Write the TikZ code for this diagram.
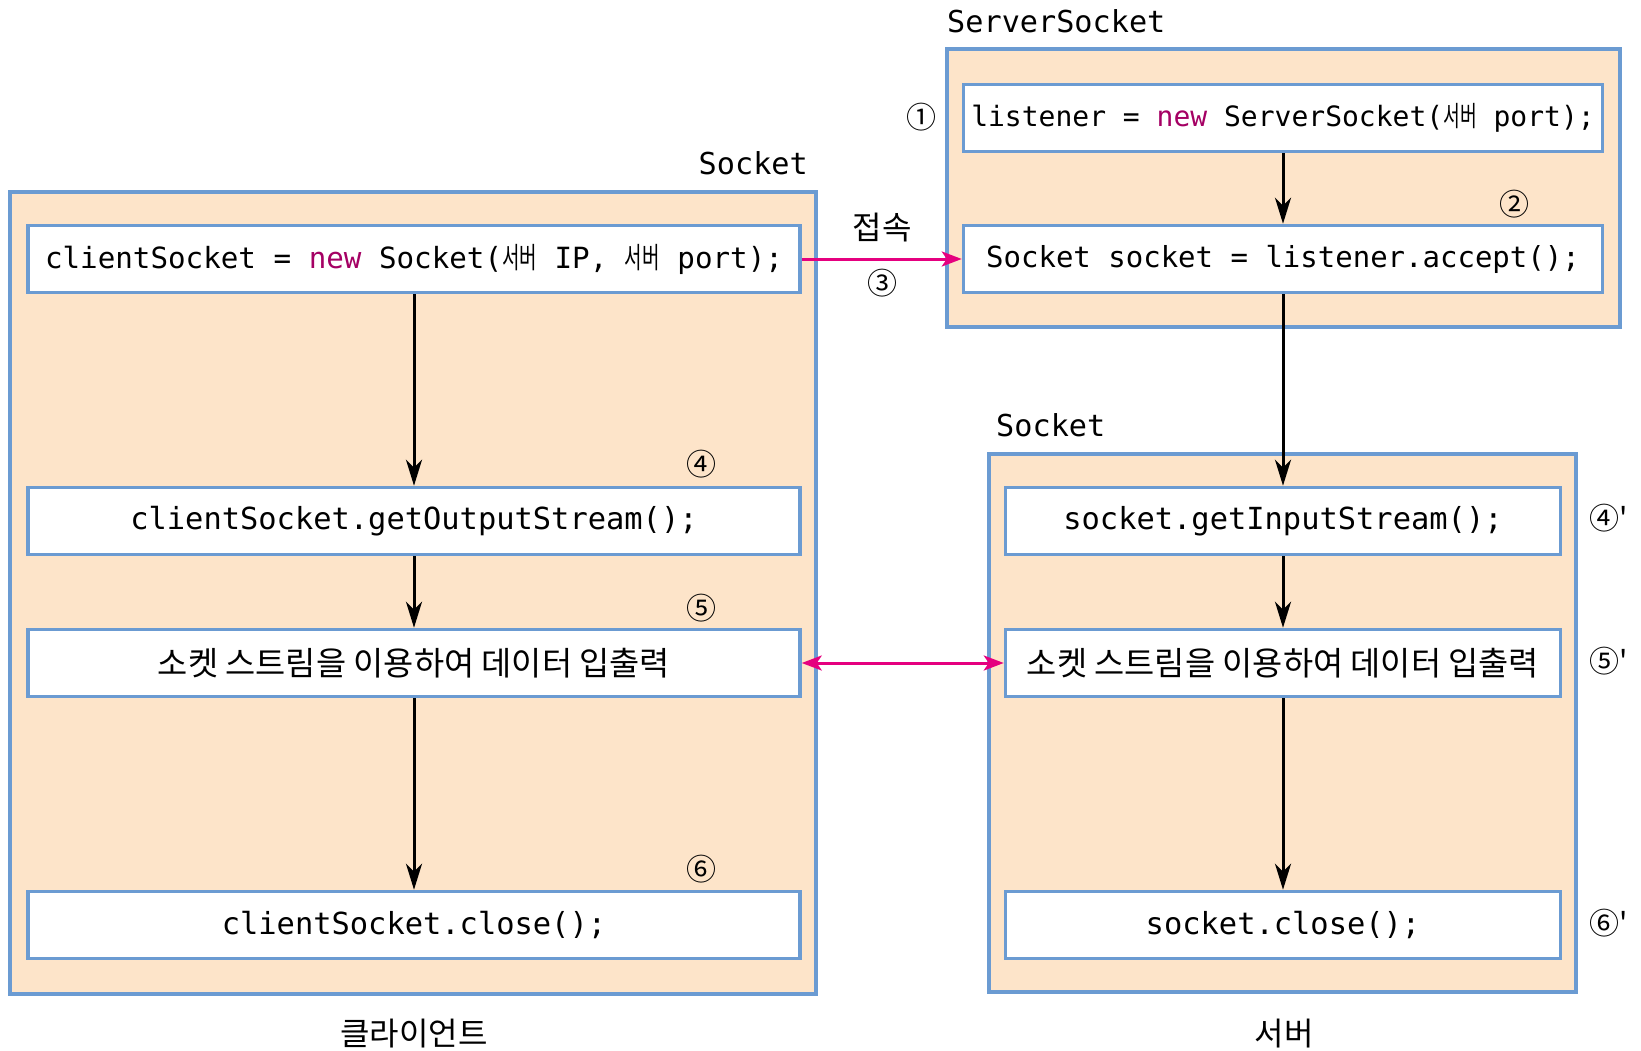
\documentclass[tikz,border=0pt]{standalone}
\usepackage{fontspec}
\setmonofont{DejaVu Sans Mono}
\newfontfamily\kr{Noto Sans CJK KR}
\newfontfamily\krcode[FakeStretch=0.65]{Noto Sans CJK KR}
\usetikzlibrary{arrows.meta}

\definecolor{boxblue}{RGB}{107,155,210}
\definecolor{sockpeach}{RGB}{253,228,201}
\definecolor{connpink}{RGB}{229,0,127}
\definecolor{kwcolor}{RGB}{165,0,100}
\newcommand{\sv}{{\krcode 서버}}
\newcommand{\kwnew}{\textcolor{kwcolor}{new}}

\tikzset{
  outerbox/.style={line width=3.5pt, draw=boxblue, fill=sockpeach},
  codebox/.style={draw=boxblue, line width=3.5pt, fill=white, minimum height=67pt,
    inner sep=0pt, font=\ttfamily\fontsize{30.4}{34}\selectfont},
  codesize/.style={font=\ttfamily\fontsize{#1}{34}\selectfont},
  krbox/.style={codebox, font=\kr\fontsize{32.8}{36}\selectfont},
  flow/.style={line width=3pt, -{Stealth[length=26pt,width=16pt,inset=8pt]}},
  conn/.style={line width=3pt, draw=connpink, fill=connpink},
  pinktip/.tip={Stealth[length=20pt,width=15pt,inset=5pt]},
  num/.style={font=\kr\fontsize{30}{32}\selectfont, inner sep=0pt},
  lbl/.style={font=\ttfamily\fontsize{30.2}{34}\selectfont, inner sep=0pt},
  krlbl/.style={font=\kr\fontsize{32}{36}\selectfont, inner sep=0pt}
}

\begin{document}
\begin{tikzpicture}[x=1pt, y=-1pt]
\useasboundingbox (0,0) rectangle (1641,1051);

\draw [outerbox] (10,192) rectangle (816,994);
\draw [outerbox] (947,49) rectangle (1620,327);
\draw [outerbox] (989,454) rectangle (1576,992);

\node [lbl, anchor=west] (sslabel) at (947,21) {ServerSocket};
\node [lbl, anchor=east] (cslabel) at (808,163) {Socket};
\node [lbl, anchor=west] (sklabel) at (996,425) {Socket};

\node [codebox, codesize=28, minimum width=639pt] (listen) at (1283,118) {listener = \kwnew{} ServerSocket(\sv{} port);};
\node [codebox, codesize=29, minimum width=639pt] (accept) at (1283,259) {Socket socket = listener.accept();};

\node [codebox, codesize=29.2, minimum width=772pt] (client) at (414,259) {clientSocket = \kwnew{} Socket(\sv{} IP, \sv{} port);};
\node [codebox, minimum width=772pt] (outstream) at (414,521) {clientSocket.getOutputStream();};
\node [krbox, minimum width=772pt] (leftio) at (414,663) {소켓 스트림을 이용하여 데이터 입출력};
\node [codebox, minimum width=772pt] (leftclose) at (414,925) {clientSocket.close();};

\node [codebox, minimum width=555pt] (instream) at (1283,521) {socket.getInputStream();};
\node [krbox, minimum width=555pt] (rightio) at (1283,663) {소켓 스트림을 이용하여 데이터 입출력};
\node [codebox, minimum width=555pt] (rightclose) at (1283,925) {socket.close();};

\draw [flow] (listen) -- (accept);
\draw [flow] (accept) -- (instream);
\draw [flow] (instream) -- (rightio);
\draw [flow] (rightio) -- (rightclose);
\draw [flow] (client) -- (outstream);
\draw [flow] (outstream) -- (leftio);
\draw [flow] (leftio) -- (leftclose);

\draw [conn, -pinktip] (client) -- (accept);
\draw [conn, pinktip-pinktip] (leftio) -- (rightio);

\node [krlbl] (conlabel) at (882,228) {접속};
\node [num] (n3) at (882,283) {③};
\node [num] (n1) at (921,117) {①};
\node [num] (n2) at (1514,204) {②};
\node [num] (n4) at (701,464) {④};
\node [num] (n5) at (701,608) {⑤};
\node [num] (n6) at (701,869) {⑥};
\node [num, anchor=west] (n4s) at (1589,518) {④'};
\node [num, anchor=west] (n5s) at (1589,661) {⑤'};
\node [num, anchor=west] (n6s) at (1589,923) {⑥'};

\node [krlbl] (clilabel) at (414,1034) {클라이언트};
\node [krlbl] (srvlabel) at (1284,1034) {서버};
\end{tikzpicture}
\end{document}
